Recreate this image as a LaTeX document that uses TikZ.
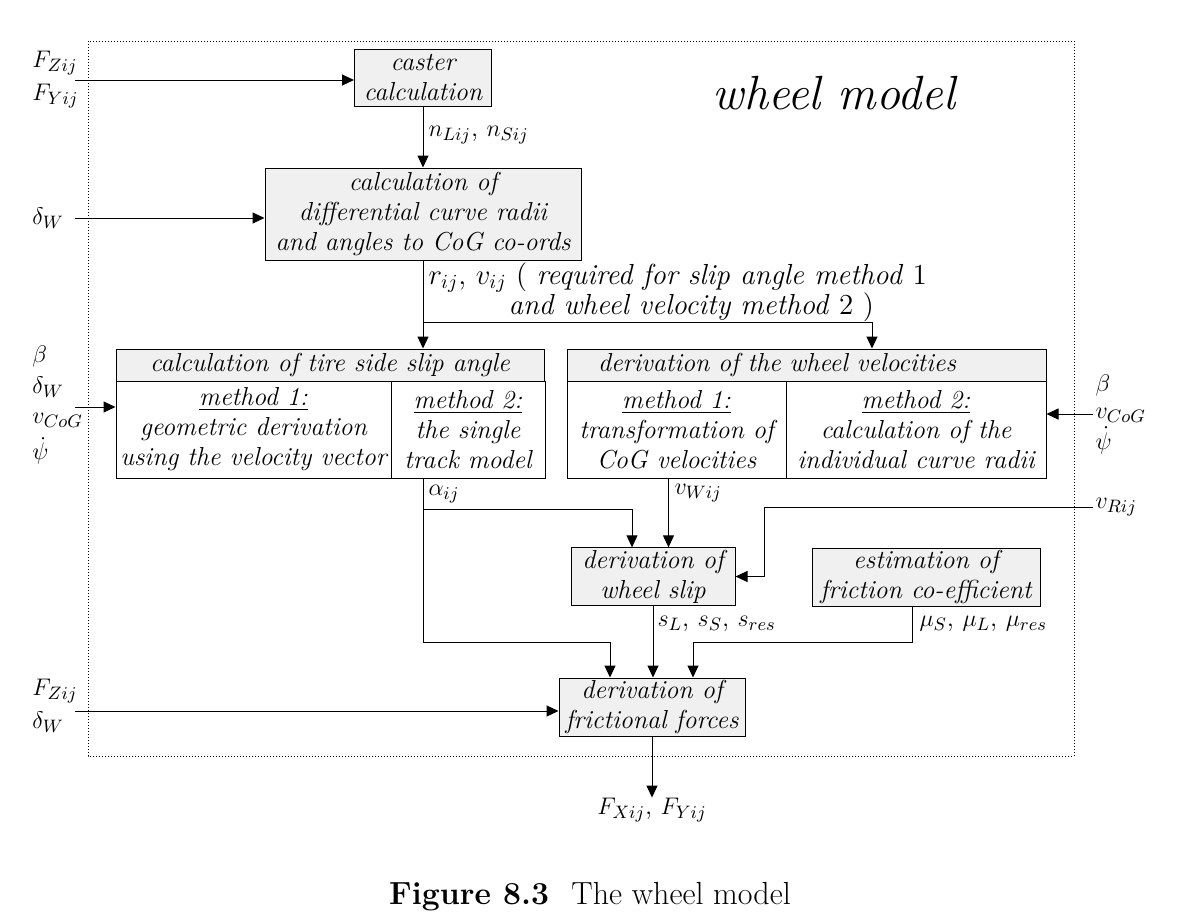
\documentclass[tikz,border=0pt]{standalone}
\usepackage{amsmath}
\usepackage{amssymb}
\usetikzlibrary{arrows.meta}

\definecolor{boxgrey}{gray}{0.94}

\tikzset{
  box/.style={draw, fill=boxgrey, align=center, inner sep=1pt, font=\itshape},
  cell/.style={draw, align=center, inner sep=1pt, font=\itshape},
  inp/.style={align=left, inner sep=1pt, text width=20pt},
  lbl/.style={anchor=west, inner sep=1pt},
}

\begin{document}
\fontsize{13}{15}\selectfont
\begin{tikzpicture}[x=0.5pt, y=-0.5pt, line width=0.5pt,
  >={Triangle[length=6pt,width=5.5pt]}]
\useasboundingbox (0,0) rectangle (1200,923);
\draw[densely dotted] (88,41) rectangle (1074,756);
\node[font=\fontsize{24}{28}\selectfont\itshape] (title) at (834,93) {wheel model};

% boxes
\node[box, minimum width=68.5pt, minimum height=28.5pt] (caster) at (423,77.5) {caster\\calculation};
\node[box, minimum width=158pt, minimum height=46pt] (curve) at (423,214) {calculation of\\differential curve radii\\and angles to CoG co-ords};
\node[box, minimum width=214pt, minimum height=16pt] (slipHead) at (330,365) {calculation of tire side slip angle};
\node[cell, minimum width=137.5pt, minimum height=48.5pt] (slipM1) at (253.5,429.5) {\underline{method 1:}\\geometric derivation\\using the velocity vector};
\node[cell, minimum width=77pt, minimum height=48.5pt] (slipM2) at (468,429.5) {\underline{method 2:}\\the single\\track model};
\node[box, minimum width=239.5pt, minimum height=16pt, text width=237.5pt, align=left] (velHead) at (806.5,365) {\hspace*{14.5pt}derivation of the wheel velocities};
\node[cell, minimum width=109.5pt, minimum height=48.5pt] (velM1) at (676.5,429.5) {\underline{method 1:}\\transformation of\\CoG velocities};
\node[cell, minimum width=130pt, minimum height=48.5pt] (velM2) at (916,429.5) {\underline{method 2:}\\calculation of the\\individual curve radii};
\node[box, minimum width=82pt, minimum height=28.5pt] (slipBox) at (653,576.5) {derivation of\\wheel slip};
\node[box, minimum width=114pt, minimum height=29pt] (fricCoef) at (926,577) {estimation of\\friction co-efficient};
\node[box, minimum width=93pt, minimum height=29pt] (forces) at (652,707) {derivation of\\frictional forces};

% inputs and labels
\node[inp, anchor=east] (inCaster) at (75,80) {$F_{Zij}$\\[1.5pt]$F_{Yij}$};
\node[inp, anchor=east] (inCurve) at (75,218) {$\delta_W$};
\node[inp, anchor=east] (inSlip) at (75,405) {$\beta$\\[0.5pt]$\delta_W$\\[0pt]$v_{CoG}$\\[3pt]$\dot{\psi}$};
\node[inp, anchor=west, font=\fontsize{13}{13.5}\selectfont] (inVel) at (1093,414) {$\beta$\\$v_{CoG}$\\[2pt]$\dot{\psi}$};
\node[inp, anchor=west] (inRij) at (1093,507) {$v_{Rij}$};
\node[inp, anchor=east] (inForces) at (75,706) {$F_{Zij}$\\[1.5pt]$\delta_W$};
\node[lbl] (nLS) at (426,135) {$n_{Lij}$, $n_{Sij}$};
\node[lbl, align=left, font=\fontsize{14.5}{15}\selectfont] (rv) at (426,292) {$r_{ij}$, $v_{ij}$ ( \textit{required for slip angle method} 1\\\hspace*{40pt}\textit{and wheel velocity method} 2 )};
\node[lbl] (alpha) at (426,494) {$\alpha_{ij}$};
\node[lbl] (vW) at (672,493) {$v_{Wij}$};
\node[lbl] (sLS) at (655,624) {$s_L$, $s_S$, $s_{res}$};
\node[lbl] (mu) at (917,624) {$\mu_S$, $\mu_L$, $\mu_{res}$};
\node[inner sep=0pt] (out) at (652,810) {$F_{Xij}$, $F_{Yij}$};

% connectors
\draw[->] (inCaster.east) -- (inCaster.east -| caster.west);
\draw[->] (caster) -- (caster |- curve.north);
\draw[->] (inCurve.east) -- (inCurve.east -| curve.west);
\draw[->] (curve.south) -- (curve.south |- slipHead.north);
\coordinate (split) at ([yshift=-31pt]curve.south);
\draw[->] (split) -| ([xshift=32.75pt]velHead.north);
\draw[->] ([yshift=-1pt]inSlip.east) -- ([yshift=-1pt]inSlip.east -| slipM1.west);
\draw[->] (inVel.west) -- (inVel.west -| velM2.east);
\coordinate (alphaOut) at (curve.south |- slipM2.south);
\coordinate (alphaRow) at ([yshift=-15.5pt]alphaOut);
\draw (alphaOut) -- (alphaRow);
\draw[->] (alphaRow) -| ([xshift=-10.5pt]slipBox.north);
\draw[->] (alphaRow) -- ++(0,133) -| ([xshift=-21pt]forces.north);
\draw[->] ([xshift=-4pt]velM1.south) -- ([xshift=-4pt]velM1.south |- slipBox.north);
\draw[->] (inRij.west) -| ([xshift=14.25pt]slipBox.east) -- (slipBox.east);
\draw[->] (slipBox) -- (slipBox |- forces.north);
\draw[->] ([xshift=-7pt]fricCoef.south) -- ++(0,36) -| ([xshift=20.5pt]forces.north);
\draw[->] ([yshift=-2.5pt]inForces.east) -- ([yshift=-2.5pt]inForces.east -| forces.west);
\draw[->] (forces) -- (out);

\node[font=\fontsize{16}{19}\selectfont] (caption) at (590,897) {\textbf{Figure 8.3}\hspace{0.7em}The wheel model};
\end{tikzpicture}
\end{document}
